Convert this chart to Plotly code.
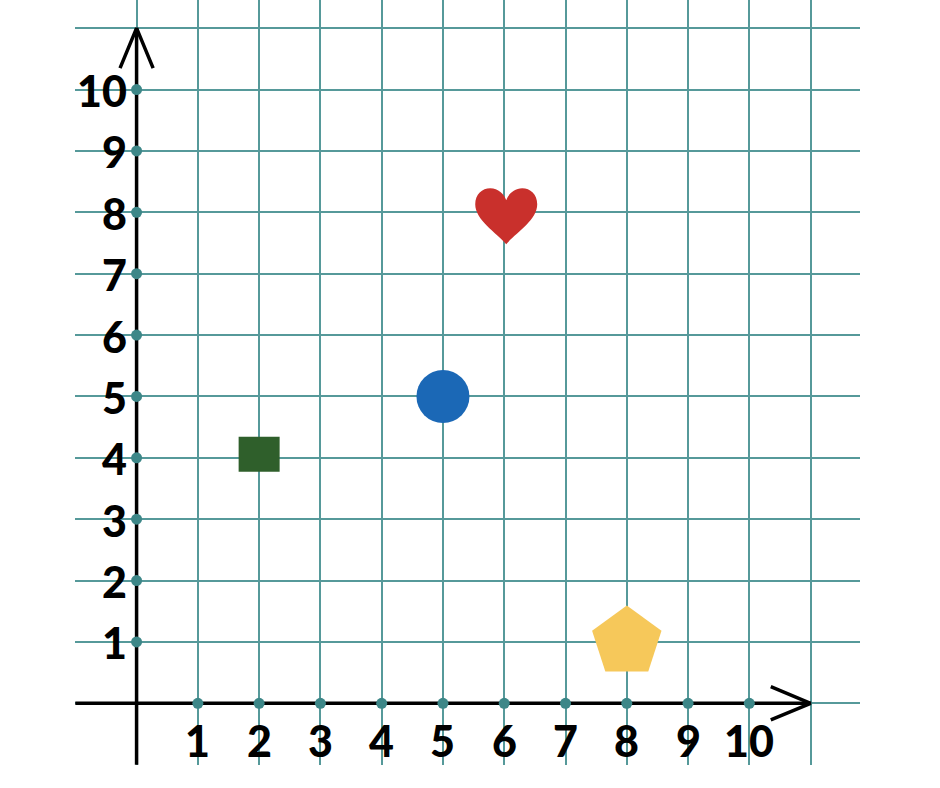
import plotly.graph_objects as go

# ---- data ----
x_ticks = [1, 2, 3, 4, 5, 6, 7, 8, 9, 10]
y_ticks = [1, 2, 3, 4, 5, 6, 7, 8, 9, 10]
x_tick_labels = ["1", "2", "3", "4", "5", "6", "7", "8", "9", "10"]
y_tick_labels = ["1", "2", "3", "4", "5", "6", "7", "8", "9", "10"]

shape_names = ["square", "circle", "heart", "pentagon"]
shape_x = [2, 5, 6, 8]
shape_y = [4, 5, 8, 1]

# ---- styles ----
GRID = "#56999a"
DOT = "#3d8788"
AXIS_MIN, AXIS_MAX = -1, 11
FONT = "Lato"
LABEL_FONT = dict(family=FONT, size=43, color="black", weight=900)

fig = go.Figure()

# axis lines
fig.add_trace(go.Scatter(x=[AXIS_MIN, AXIS_MAX], y=[0, 0], mode="lines",
                         line=dict(color="black", width=3.5), hoverinfo="skip"))
fig.add_trace(go.Scatter(x=[0, 0], y=[AXIS_MIN, AXIS_MAX], mode="lines",
                         line=dict(color="black", width=3.5), hoverinfo="skip"))
# open arrowheads
back, half = 0.65, 0.27
fig.add_trace(go.Scatter(x=[AXIS_MAX - back, AXIS_MAX, AXIS_MAX - back],
                         y=[half, 0, -half], mode="lines",
                         line=dict(color="black", width=3.5), hoverinfo="skip"))
fig.add_trace(go.Scatter(x=[-half, 0, half],
                         y=[AXIS_MAX - back, AXIS_MAX, AXIS_MAX - back], mode="lines",
                         line=dict(color="black", width=3.5), hoverinfo="skip"))

# tick dots
fig.add_trace(go.Scatter(x=x_ticks, y=[0] * len(x_ticks), mode="markers",
                         marker=dict(color=DOT, size=11), hoverinfo="skip"))
fig.add_trace(go.Scatter(x=[0] * len(y_ticks), y=y_ticks, mode="markers",
                         marker=dict(color=DOT, size=11), hoverinfo="skip"))

# circle and pentagon as markers
fig.add_trace(go.Scatter(x=[shape_x[1]], y=[shape_y[1]], mode="markers",
                         marker=dict(symbol="circle", size=53, color="#1b68b6"),
                         name=shape_names[1]))
fig.add_trace(go.Scatter(x=[shape_x[3]], y=[shape_y[3]], mode="markers",
                         marker=dict(symbol="pentagon", size=73, color="#f6c85a"),
                         name=shape_names[3]))

# square (slightly wide) and heart as pixel-sized shapes anchored at the data points
shapes = [
    dict(type="rect", xref="x", yref="y", xsizemode="pixel", ysizemode="pixel",
         xanchor=shape_x[0], yanchor=shape_y[0],
         x0=-20.5, x1=20.5, y0=-14, y1=21,
         fillcolor="#2f5f2b", line=dict(width=0), layer="above"),
    dict(type="path", xref="x", yref="y", xsizemode="pixel", ysizemode="pixel",
         xanchor=shape_x[2], yanchor=shape_y[2],
         path=("M 2,-32 C -8,-20 -29,-8 -29,8 C -29,18 -22,24 -14,24 "
               "C -6,24 0,18 2,12 C 4,18 10,24 18,24 C 26,24 33,18 33,8 "
               "C 33,-8 12,-20 2,-32 Z"),
         fillcolor="#c9302c", line=dict(width=0), layer="above"),
]

annotations = []
for t, lab in zip(x_ticks, x_tick_labels):
    annotations.append(dict(x=t, y=0, xref="x", yref="y", text=lab, showarrow=False,
                            xanchor="center", yanchor="top", yshift=-10,
                            font=LABEL_FONT))
for t, lab in zip(y_ticks, y_tick_labels):
    annotations.append(dict(x=0, y=t, xref="x", yref="y", text=lab, showarrow=False,
                            xanchor="right", yanchor="middle", xshift=-8, yshift=-1,
                            font=LABEL_FONT))

fig.update_layout(
    width=940, height=788,
    margin=dict(l=75, r=80, t=0, b=23),
    paper_bgcolor="white", plot_bgcolor="white",
    showlegend=False,
    annotations=annotations,
    shapes=shapes,
    xaxis=dict(range=[-1.005, 11.806], dtick=1, tick0=0, showgrid=True, gridcolor=GRID,
               gridwidth=1.6, zeroline=False, showticklabels=False, ticks="",
               showline=False, fixedrange=True),
    yaxis=dict(range=[-1.005, 11.459], dtick=1, tick0=0, showgrid=True, gridcolor=GRID,
               gridwidth=1.6, zeroline=False, showticklabels=False, ticks="",
               showline=False, fixedrange=True),
)

fig.write_html("out.html", config={"displayModeBar": False},
               post_script="document.body.style.margin='0';")
